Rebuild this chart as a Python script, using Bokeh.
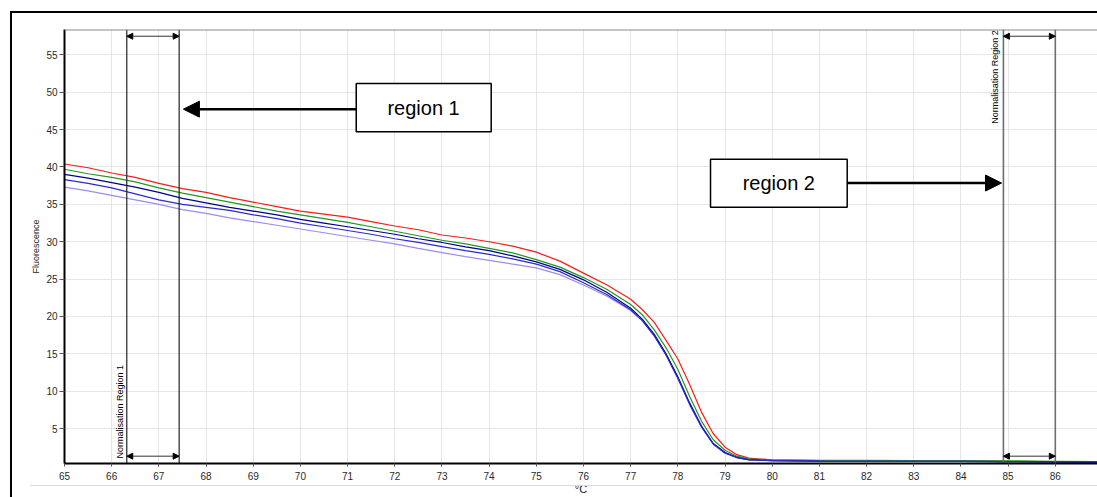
import math
from bokeh.plotting import figure
from bokeh.models import (Range1d, SingleIntervalTicker, Label, BoxAnnotation, Arrow,
                          NormalHead, Span, ColumnDataSource, InlineStyleSheet)
from bokeh.embed import file_html
from bokeh.resources import INLINE

FONT = "Liberation Sans"

# ---- data ----
temps = [65, 65.5, 66, 66.5, 67, 67.5, 68, 68.5, 69, 69.5, 70, 70.5, 71, 71.5, 72, 72.5,
         73, 73.5, 74, 74.5, 75, 75.5, 76, 76.5, 77, 77.25, 77.5, 77.75, 78, 78.25, 78.5,
         78.75, 79, 79.25, 79.5, 80, 81, 82, 83, 84, 85, 86, 87]
red = [40.4, 39.9, 39.2, 38.6, 37.8, 37.1, 36.6, 35.9, 35.3, 34.7, 34.1, 33.7, 33.3, 32.7,
       32.1, 31.6, 30.9, 30.5, 30.0, 29.4, 28.6, 27.4, 25.8, 24.2, 22.3, 20.9, 19.2, 16.8,
       14.3, 10.9, 7.2, 4.3, 2.5, 1.5, 1.05, 0.8, 0.7, 0.7, 0.7, 0.65, 0.6, 0.55, 0.5]
green = [39.7, 39.1, 38.6, 38.0, 37.2, 36.5, 35.9, 35.3, 34.7, 34.1, 33.6, 33.1, 32.6, 32.0,
         31.4, 30.8, 30.2, 29.7, 29.1, 28.5, 27.6, 26.6, 25.2, 23.6, 21.6, 20.2, 18.2, 15.8,
         12.9, 9.3, 6.0, 3.5, 2.1, 1.3, 0.95, 0.8, 0.75, 0.75, 0.72, 0.7, 0.68, 0.62, 0.55]
navy = [39.0, 38.5, 37.9, 37.3, 36.6, 35.8, 35.2, 34.6, 34.1, 33.6, 33.0, 32.5, 32.0, 31.5,
        31.0, 30.4, 29.9, 29.3, 28.8, 28.1, 27.3, 26.3, 24.9, 23.2, 21.1, 19.6, 17.6, 15.0,
        11.9, 8.4, 5.3, 3.0, 1.8, 1.15, 0.85, 0.7, 0.65, 0.62, 0.6, 0.6, 0.58, 0.55, 0.5]
blue = [38.3, 37.8, 37.2, 36.4, 35.6, 35.0, 34.6, 34.2, 33.6, 33.1, 32.5, 32.0, 31.5, 31.0,
        30.4, 29.9, 29.35, 28.8, 28.3, 27.7, 27.0, 26.0, 24.5, 22.9, 20.9, 19.4, 17.4, 14.8,
        11.7, 8.2, 5.2, 2.9, 1.7, 1.1, 0.8, 0.7, 0.65, 0.62, 0.6, 0.6, 0.58, 0.55, 0.5]
purple = [37.3, 36.8, 36.2, 35.6, 35.0, 34.3, 33.8, 33.2, 32.7, 32.2, 31.7, 31.2, 30.7, 30.2,
          29.7, 29.1, 28.55, 28.0, 27.5, 27.0, 26.5, 25.6, 24.2, 22.7, 20.8, 19.4, 17.4, 14.9,
          11.9, 8.4, 5.4, 3.0, 1.8, 1.15, 0.85, 0.7, 0.65, 0.62, 0.6, 0.6, 0.58, 0.55, 0.5]

x_label = "°C"
y_label = "Fluorescence"
region1 = [66.32, 67.43]
region2 = [84.9, 86.0]
region1_name = "Normalisation Region 1"
region2_name = "Normalisation Region 2"
callout1 = "region 1"
callout2 = "region 2"

X0, X1 = 65, 86.894
Y0, Y1 = 0.32, 58.4

frame_css = InlineStyleSheet(css="""
:host { position: relative; }
:host::before {
  content: ""; position: absolute; left: 10px; top: 11px; right: 0px; bottom: 0px;
  border-left: 2px solid black; border-top: 2px solid black; pointer-events: none; z-index: 10;
}
:host::after {
  content: ""; position: absolute; left: 30px; right: 0px; top: 485px; height: 0px;
  border-top: 1px solid #dcdcd4; pointer-events: none; z-index: 10;
}
""")

p = figure(width=1097, height=497, output_backend="svg", toolbar_location=None,
           x_range=Range1d(X0, X1), y_range=Range1d(Y0, Y1),
           min_border_left=64, min_border_right=0, min_border_top=29, min_border_bottom=33,
           stylesheets=[frame_css])
p.background_fill_color = "white"
p.border_fill_color = "white"
p.outline_line_color = None

# axes
for ax in (p.xaxis[0], p.yaxis[0]):
    ax.axis_line_color = "black"
    ax.axis_line_width = 2
    ax.major_tick_line_color = "#555555"
    ax.major_tick_in = 0
    ax.minor_tick_line_color = None
    ax.major_label_text_font = FONT
    ax.major_label_text_font_size = "10px"
    ax.major_label_text_color = "#2a2a2a"
    ax.axis_label_text_font = FONT
    ax.axis_label_text_font_style = "normal"
    ax.axis_label_text_color = "#222222"
p.xaxis[0].ticker = SingleIntervalTicker(interval=1)
p.yaxis[0].ticker = SingleIntervalTicker(interval=5)
p.xaxis[0].major_tick_out = 3
p.xaxis[0].major_label_standoff = 4
p.yaxis[0].major_tick_out = 5
p.yaxis[0].major_label_standoff = 2
p.xaxis[0].axis_label = x_label
p.xaxis[0].axis_label_text_font_size = "11px"
p.xaxis[0].axis_label_standoff = 0
p.yaxis[0].axis_label = y_label
p.yaxis[0].axis_label_text_font_size = "9px"
p.yaxis[0].axis_label_standoff = 2

p.xgrid[0].ticker = SingleIntervalTicker(interval=1)
p.ygrid[0].ticker = SingleIntervalTicker(interval=5)
p.grid.grid_line_color = "#e6e6e6"
p.grid.grid_line_width = 1

# top border of plot area
p.add_layout(Span(location=Y1 - 0.05, dimension="width", line_color="#8a8a8a", line_width=1.5))

# curves
series = [(red, "#ff1a1a"), (green, "#1f9a1f"), (purple, "#9a8cf0"), (navy, "#00008c"), (blue, "#2a2ad0")]
for ys, col in series:
    src = ColumnDataSource(dict(x=temps, y=ys))
    p.line("x", "y", source=src, line_color=col, line_width=1.2)

# normalisation regions
for (a, b), col, lw in ((region1, "#222222", 1.2), (region2, "#6e6e6e", 1.6)):
    p.segment(x0=[a, b], y0=[Y0, Y0], x1=[a, b], y1=[Y1, Y1], line_color=col, line_width=lw)
    for yy in (57.5, 1.3):
        p.add_layout(Arrow(x_start=a, y_start=yy, x_end=b, y_end=yy, line_width=1, line_color="#333333",
                           start=NormalHead(size=6, fill_color="black", line_color="black"),
                           end=NormalHead(size=6, fill_color="black", line_color="black")))

p.add_layout(Label(x=66.18, y=0.99, text=region1_name, angle=math.pi / 2, text_align="left",
                   text_baseline="middle", text_font=FONT, text_font_size="9px", text_color="black"))
p.add_layout(Label(x=84.73, y=58.29, text=region2_name, angle=math.pi / 2, text_align="right",
                   text_baseline="middle", text_font=FONT, text_font_size="9px", text_color="black"))

# callout boxes and arrows
p.add_layout(BoxAnnotation(left=71.183, right=74.044, bottom=44.70, top=51.17, fill_color="white",
                           fill_alpha=1, line_color="black", line_alpha=1, line_width=1.5, level="overlay"))
p.add_layout(Label(x=72.61, y=47.94, text=callout1, text_align="center", text_baseline="middle",
                   text_font=FONT, text_font_size="20px", text_color="black", level="overlay"))
p.add_layout(Arrow(x_start=71.183, y_start=47.74, x_end=67.52, y_end=47.74, line_width=2.5, line_color="black",
                   end=NormalHead(size=16, fill_color="black", line_color="black")))

p.add_layout(BoxAnnotation(left=78.692, right=81.589, bottom=34.61, top=41.02, fill_color="white",
                           fill_alpha=1, line_color="black", line_alpha=1, line_width=1.5, level="overlay"))
p.add_layout(Label(x=80.14, y=37.81, text=callout2, text_align="center", text_baseline="middle",
                   text_font=FONT, text_font_size="20px", text_color="black", level="overlay"))
p.add_layout(Arrow(x_start=81.589, y_start=37.85, x_end=84.86, y_end=37.85, line_width=2.5, line_color="black",
                   end=NormalHead(size=16, fill_color="black", line_color="black")))

open("out.html", "w").write(file_html(p, INLINE))
